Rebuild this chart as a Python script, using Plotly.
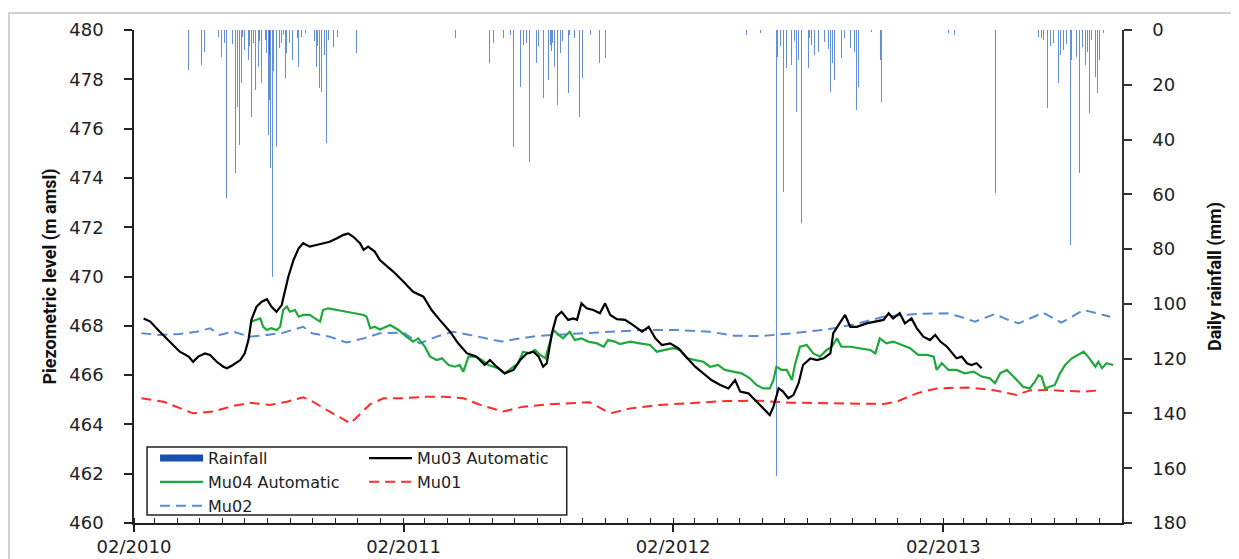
import pandas as pd
import plotly.graph_objects as go

START = pd.Timestamp("2010-02-01")

# ---- Mu03 Automatic (days since 2010-02-01, m amsl)
mu03_day = [13, 22, 35, 49, 62, 74, 80, 87, 96, 103,
            112, 121, 126, 134, 144, 150, 155, 159, 166, 173,
            180, 186, 193, 200, 205, 209, 216, 223, 229, 238,
            247, 256, 265, 275, 283, 290, 297, 306, 311, 317,
            326, 333, 338, 351, 365, 378, 392, 403, 414, 428,
            439, 451, 464, 475, 482, 491, 502, 514, 523, 532,
            541, 548, 554, 559, 566, 572, 579, 588, 595, 600,
            606, 613, 622, 631, 638, 645, 654, 665, 676, 688,
            697, 706, 715, 726, 737, 749, 760, 771, 782, 794,
            805, 814, 821, 832, 843, 855, 861, 866, 873, 879,
            886, 893, 900, 906, 916, 925, 934, 943, 947, 954,
            963, 970, 979, 992, 1006, 1015, 1022, 1028, 1037, 1044,
            1053, 1060, 1069, 1078, 1085, 1092, 1101, 1107, 1114, 1121,
            1128, 1134, 1141, 1148]
mu03_val = [468.30, 468.17, 467.76, 467.35, 466.95, 466.75, 466.54, 466.75, 466.88, 466.82,
            466.54, 466.34, 466.28, 466.41, 466.61, 466.88, 467.42, 468.24, 468.78, 468.98,
            469.08, 468.78, 468.57, 468.84, 469.45, 469.99, 470.67, 471.14, 471.35, 471.21,
            471.28, 471.35, 471.41, 471.55, 471.68, 471.75, 471.61, 471.35, 471.08, 471.21,
            471.01, 470.67, 470.54, 470.20, 469.79, 469.38, 469.18, 468.64, 468.24, 467.76,
            467.29, 466.88, 466.75, 466.41, 466.61, 466.34, 466.07, 466.21, 466.61, 466.88,
            466.95, 466.75, 466.34, 466.48, 467.70, 468.37, 468.57, 468.24, 468.30, 468.24,
            468.91, 468.71, 468.64, 468.51, 468.91, 468.44, 468.27, 468.24, 468.03, 467.76,
            467.96, 467.49, 467.22, 467.29, 467.09, 466.68, 466.34, 466.07, 465.80, 465.60,
            465.46, 465.80, 465.33, 465.26, 464.92, 464.58, 464.38, 464.72, 465.46, 465.33,
            465.06, 465.19, 465.67, 466.41, 466.68, 466.61, 466.68, 466.88, 467.70, 468.03,
            468.44, 467.96, 467.96, 468.10, 468.17, 468.24, 468.51, 468.30, 468.51, 468.10,
            468.30, 467.90, 467.56, 467.42, 467.63, 467.36, 467.15, 466.95, 466.68, 466.75,
            466.48, 466.41, 466.48, 466.28]

# ---- Mu04 Automatic
mu04_day = [159, 166, 171, 175, 180, 186, 193, 198, 202, 207,
            211, 218, 223, 229, 238, 245, 252, 256, 263, 275,
            288, 302, 311, 315, 320, 326, 333, 347, 358, 369,
            378, 385, 394, 401, 410, 417, 426, 435, 441, 446,
            453, 462, 471, 480, 487, 493, 502, 512, 520, 527,
            536, 543, 550, 557, 563, 568, 575, 581, 590, 597,
            606, 615, 627, 636, 642, 651, 658, 672, 685, 699,
            708, 719, 730, 740, 749, 760, 771, 780, 791, 800,
            812, 823, 834, 843, 852, 861, 866, 870, 877, 884,
            891, 895, 902, 911, 920, 929, 938, 945, 952, 958,
            970, 983, 997, 1004, 1010, 1019, 1028, 1040, 1051, 1062,
            1074, 1083, 1087, 1094, 1103, 1114, 1125, 1137, 1148, 1159,
            1166, 1173, 1182, 1191, 1198, 1204, 1213, 1220, 1225, 1229,
            1234, 1241, 1247, 1254, 1261, 1270, 1279, 1286, 1292, 1302,
            1306, 1311, 1317, 1326]
mu04_val = [468.17, 468.24, 468.30, 467.96, 467.83, 467.90, 467.83, 467.96, 468.64, 468.78,
            468.57, 468.64, 468.37, 468.44, 468.44, 468.30, 468.17, 468.64, 468.71, 468.64,
            468.57, 468.51, 468.44, 468.37, 467.90, 467.96, 467.85, 468.03, 467.83, 467.56,
            467.36, 467.49, 467.15, 466.75, 466.61, 466.68, 466.41, 466.34, 466.41, 466.14,
            466.75, 466.75, 466.61, 466.41, 466.34, 466.28, 466.07, 466.28, 466.48, 466.95,
            466.88, 467.02, 466.82, 466.68, 467.29, 467.83, 467.63, 467.49, 467.76, 467.42,
            467.49, 467.36, 467.29, 467.15, 467.42, 467.36, 467.26, 467.36, 467.29, 467.22,
            466.95, 467.02, 467.09, 467.02, 466.68, 466.61, 466.54, 466.34, 466.41, 466.21,
            466.14, 466.07, 465.87, 465.60, 465.46, 465.46, 465.80, 466.34, 466.21, 466.21,
            465.80, 466.41, 467.15, 467.22, 466.88, 466.75, 467.02, 467.15, 467.49, 467.15,
            467.15, 467.09, 467.02, 466.88, 467.49, 467.29, 467.36, 467.22, 467.09, 466.82,
            466.82, 466.75, 466.21, 466.48, 466.21, 466.21, 466.07, 466.14, 465.94, 465.87,
            465.67, 466.07, 466.21, 465.94, 465.73, 465.53, 465.46, 465.73, 466.00, 465.94,
            465.46, 465.53, 465.60, 466.07, 466.41, 466.68, 466.82, 466.95, 466.75, 466.34,
            466.54, 466.28, 466.48, 466.41]

# ---- Mu01 (manual)
mu01_day = [10, 40, 80, 107, 130, 157, 184, 207, 229, 238,
            265, 293, 320, 338, 365, 392, 419, 446, 469, 500,
            527, 563, 590, 617, 645, 672, 712, 757, 803, 848,
            888, 938, 983, 1015, 1033, 1060, 1087, 1128, 1164, 1195,
            1213, 1236, 1259, 1286, 1311]
mu01_val = [465.06, 464.92, 464.45, 464.52, 464.72, 464.88, 464.79, 464.92, 465.10, 464.99,
            464.52, 464.04, 464.82, 465.06, 465.06, 465.12, 465.12, 465.06, 464.79, 464.52,
            464.72, 464.82, 464.86, 464.90, 464.45, 464.65, 464.79, 464.88, 464.95, 464.96,
            464.88, 464.86, 464.86, 464.83, 464.92, 465.26, 465.46, 465.50, 465.39, 465.19,
            465.38, 465.40, 465.36, 465.33, 465.39]

# ---- Mu02 (manual)
mu02_day = [10, 35, 62, 85, 103, 116, 134, 157, 180, 202,
            229, 241, 265, 288, 311, 333, 365, 387, 410, 432,
            455, 478, 498, 523, 545, 568, 613, 658, 690, 735,
            780, 812, 848, 893, 938, 976, 1015, 1060, 1101, 1119,
            1139, 1166, 1182, 1198, 1231, 1256, 1286, 1322]
mu02_val = [467.70, 467.63, 467.67, 467.76, 467.90, 467.63, 467.76, 467.56, 467.63, 467.72,
            467.96, 467.70, 467.56, 467.32, 467.49, 467.70, 467.72, 467.29, 467.56, 467.76,
            467.63, 467.49, 467.36, 467.49, 467.58, 467.63, 467.70, 467.80, 467.83, 467.83,
            467.76, 467.60, 467.58, 467.70, 467.85, 468.06, 468.37, 468.48, 468.51, 468.37,
            468.17, 468.48, 468.26, 468.10, 468.53, 468.13, 468.64, 468.37]

# ---- Daily rainfall (days since 2010-02-01, mm)
rain_day = [4, 74, 92, 96, 107, 115, 119, 122, 125, 126, 130, 133, 137, 140, 143, 145, 147, 150,
            155, 157, 159, 162, 165, 168, 170, 173, 176, 178, 180, 182, 183, 184, 185, 187, 189,
            191, 193, 195, 197, 200, 203, 205, 207, 211, 215, 218, 221, 223, 227, 232, 244, 247,
            249, 251, 254, 258, 261, 263, 270, 275, 301,
            435, 482, 487, 493, 500, 510, 514, 516, 520, 523, 527, 532, 535, 539, 543, 545, 548,
            554, 558, 561, 562, 564, 565, 567, 570, 573, 577, 580, 588, 590, 596, 603, 607, 618,
            630, 638,
            799, 803, 830, 848, 868, 870, 872, 875, 879, 884, 887, 891, 894, 897, 900, 902, 904,
            906, 910, 913, 915, 918, 921, 927, 935, 940, 943, 946, 949, 952, 958, 962, 970, 976,
            979, 981, 999, 1011, 1012,
            1103, 1111, 1120, 1167, 1189, 1225, 1229, 1232, 1237, 1241, 1245, 1250, 1252, 1255,
            1259, 1263, 1268, 1270, 1273, 1276, 1280, 1285, 1289, 1291, 1294, 1297, 1300, 1302,
            1305, 1308, 1313]
rain_mm = [1.0, 14.6, 12.8, 7.9, 24.3, 2.4, 9.7, 4.9, 61.5, 17.0, 3.0, 5.0, 52.3, 28.0, 42.0, 19.5, 2.5, 7.3,
           11.0, 6.0, 31.6, 4.9, 21.9, 13.4, 4.0, 19.5, 6.1, 3.5, 8.5, 38.3, 9.0, 25.6, 50.5, 90.2, 15.0,
           12.2, 42.6, 13.4, 6.5, 4.9, 2.0, 17.6, 8.5, 4.9, 11.0, 6.1, 3.0, 13.4, 2.4, 1.2, 4.0, 13.4,
           6.0, 21.3, 22.5, 9.0, 41.4, 3.7, 6.1, 2.4, 8.5,
           3.0, 12.2, 4.9, 6.7, 3.0, 2.0, 42.6, 4.9, 24.3, 20.7, 5.5, 4.9, 48.1, 7.3, 29.2, 12.2, 6.0,
           24.9, 9.0, 18.3, 11.0, 5.5, 7.5, 4.9, 13.4, 27.4, 8.5, 4.0, 23.1, 1.8, 3.0, 31.6, 17.6, 1.8,
           12.2, 10.3,
           6.7, 9.1, 1.8, 1.2, 28.6, 163.0, 10.0, 6.0, 59.0, 14.0, 8.0, 12.8, 4.0, 29.8, 11.0, 12.0, 70.6,
           8.5, 18.9, 14.0, 3.0, 5.5, 9.0, 7.9, 4.5, 7.0, 22.5, 12.0, 18.3, 8.5, 10.3, 3.0, 6.7, 8.0,
           29.2, 20.7, 0.6, 11.0, 26.2,
           1.2, 1.8, 5.5, 59.6, 0.6, 2.4, 3.0, 3.5, 28.6, 6.0, 4.9, 15.2, 19.5, 9.0,
           7.3, 5.0, 78.5, 11.0, 22.5, 10.0, 52.3, 6.1, 12.8, 8.0, 30.4, 3.7, 12.0, 17.0,
           23.1, 11.0, 1.2]


def to_dates(days):
    return [START + pd.Timedelta(days=d) for d in days]


TICK_FONT = dict(family="DejaVu Sans", size=18, color="#222222")
TITLE_FONT = dict(family="Liberation Sans Narrow, Roboto, sans-serif", size=18,
                  color="#111111", weight="bold")

fig = go.Figure()

# Rainfall bars on primary (right, reversed) axis so lines are drawn above
fig.add_trace(go.Bar(
    x=to_dates(rain_day), y=rain_mm, name="Rainfall",
    marker=dict(color="rgba(35,95,200,0.7)", line=dict(width=0)),
    width=86400000 * 1.2, yaxis="y", showlegend=False,
))
# legend entry for rainfall
fig.add_trace(go.Scatter(
    x=[None], y=[None], mode="lines", name="Rainfall",
    line=dict(color="#1650b0", width=7), yaxis="y2",
    legend="legend", legendrank=1,
))
fig.add_trace(go.Scatter(
    x=to_dates(mu02_day), y=mu02_val, mode="lines", name="Mu02",
    line=dict(color="#5a8bd0", width=2, dash="10px,6px"), yaxis="y2",
    legend="legend", legendrank=3,
))
fig.add_trace(go.Scatter(
    x=to_dates(mu01_day), y=mu01_val, mode="lines", name="Mu01",
    line=dict(color="#ff2a2a", width=2, dash="10px,6px"), yaxis="y2",
    legend="legend2", legendrank=2,
))
fig.add_trace(go.Scatter(
    x=to_dates(mu04_day), y=mu04_val, mode="lines", name="Mu04 Automatic",
    line=dict(color="#1fa83a", width=2.2), yaxis="y2",
    legend="legend", legendrank=2,
))
fig.add_trace(go.Scatter(
    x=to_dates(mu03_day), y=mu03_val, mode="lines", name="Mu03 Automatic",
    line=dict(color="#000000", width=2.2), yaxis="y2",
    legend="legend2", legendrank=1,
))

fig.update_layout(
    width=1231, height=551,
    margin=dict(l=126, r=117, t=22, b=36, autoexpand=False),
    paper_bgcolor="white", plot_bgcolor="white",
    bargap=0,
    xaxis=dict(
        type="date", range=["2010-02-01", "2013-10-01"],
        tick0="2010-02-01", dtick="M12", tickformat="%m/%Y",
        ticks="outside", ticklen=7, tickwidth=1.5, tickcolor="#222",
        showline=True, linecolor="#222", linewidth=1.5,
        showgrid=False, zeroline=False, tickfont=TICK_FONT,
        minor=dict(dtick="M1", tick0="2010-02-01", ticks="inside", ticklen=5,
                   tickwidth=1.2, tickcolor="#222", showgrid=False),
    ),
    yaxis=dict(
        side="right", range=[180, 0], dtick=20,
        ticks="outside", ticklen=8, tickwidth=1.5, tickcolor="#333",
        showline=True, linecolor="#333", linewidth=1.5,
        showgrid=False, zeroline=False, tickfont=TICK_FONT,
        ticklabelstandoff=17,
        title=dict(text="Daily rainfall (mm)", font=TITLE_FONT, standoff=23),
    ),
    yaxis2=dict(
        overlaying="y", side="left", range=[460, 480], dtick=2,
        ticks="outside", ticklen=8, tickwidth=1.5, tickcolor="#222",
        showline=True, linecolor="#222", linewidth=1.5,
        showgrid=False, zeroline=False, tickfont=TICK_FONT,
        ticklabelstandoff=17,
        title=dict(text="Piezometric level (m amsl)", font=TITLE_FONT, standoff=8),
    ),
    legend=dict(
        x=0.0213, y=0.166, xanchor="left", yanchor="top",
        bgcolor="rgba(0,0,0,0)", borderwidth=0, itemwidth=43,
        font=dict(family="DejaVu Sans", size=16, color="#222"),
        tracegroupgap=0,
    ),
    legend2=dict(
        x=0.2328, y=0.166, xanchor="left", yanchor="top",
        bgcolor="rgba(0,0,0,0)", borderwidth=0, itemwidth=43,
        font=dict(family="DejaVu Sans", size=16, color="#222"),
        tracegroupgap=0,
    ),
    shapes=[
        # outer frame
        dict(type="rect", xref="paper", yref="paper",
             x0=-0.1265, x1=1.125, y0=-0.09, y1=1.0345,
             line=dict(color="#c4c4c4", width=1.5), fillcolor="rgba(0,0,0,0)", layer="below"),
        # legend box
        dict(type="rect", xref="paper", yref="paper",
             x0=0.0132, x1=0.438, y0=0.0162, y1=0.154,
             line=dict(color="#222", width=1.5), fillcolor="white", layer="below"),
    ],
)

fig.write_html("out.html")
